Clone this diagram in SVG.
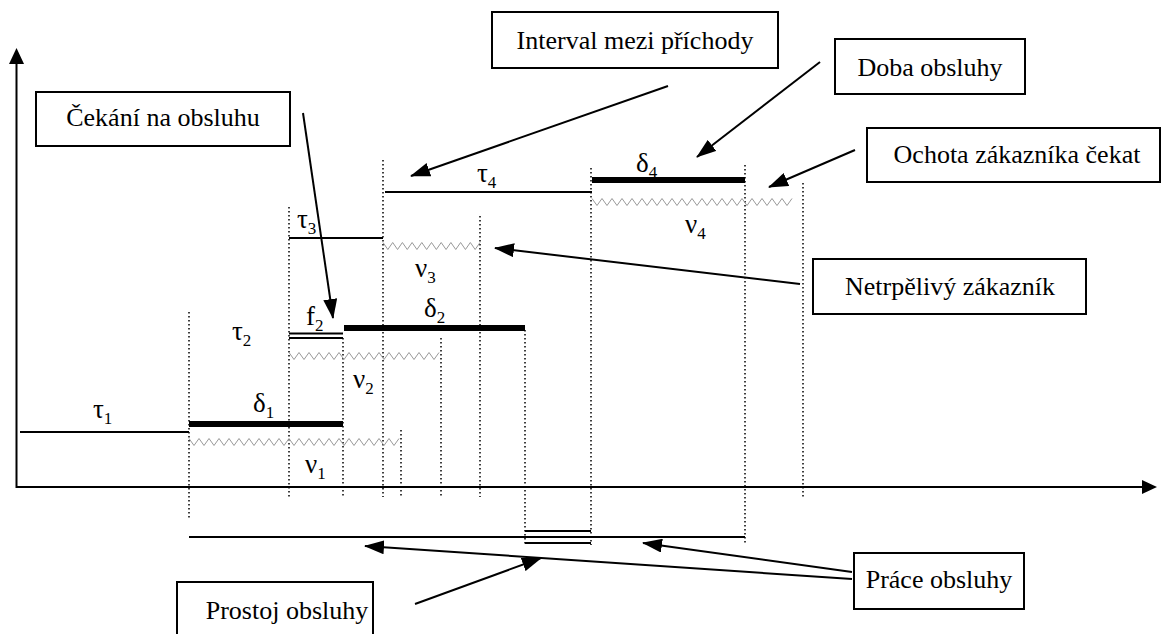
<svg xmlns="http://www.w3.org/2000/svg" width="1162" height="634" viewBox="0 0 1162 634">
<style>
.box{fill:#fff;stroke:#000;stroke-width:2}
.lbl{font-family:"Liberation Serif","Times New Roman",serif;font-size:26px;fill:#000}
.sym{font-family:"Liberation Serif","Times New Roman",serif;font-size:27px;fill:#000}
.sub{font-size:17px}
.dot{stroke:#000;stroke-width:1.5;stroke-dasharray:1.5 2.5;fill:none}
.ln{stroke:#000;stroke-width:2;fill:none}
.bar{stroke:#000;stroke-width:6;fill:none}
.wave{stroke:#999;stroke-width:1;fill:none}
.arr{stroke:#000;stroke-width:2;fill:none;marker-end:url(#ah)}
</style>
<defs>
<marker id="ah" markerUnits="userSpaceOnUse" markerWidth="20" markerHeight="14" refX="19" refY="7" orient="auto">
<path d="M0,0 L20,7 L0,14 z" fill="#000"/>
</marker>
</defs>
<rect width="1162" height="634" fill="#fff"/>
<g id="axes">
<line class="ln" x1="16.5" y1="488" x2="16.5" y2="62"/>
<polygon points="9,64 24,64 16.5,48" fill="#000"/>
<line class="ln" x1="16" y1="487" x2="1143" y2="487"/>
<polygon points="1142,480 1142,494 1157,487" fill="#000"/>
</g>
<g id="dotted">
<line class="dot" x1="189" y1="312" x2="189" y2="520"/>
<line class="dot" x1="289" y1="207" x2="289" y2="497"/>
<line class="dot" x1="343" y1="338" x2="343" y2="497"/>
<line class="dot" x1="383" y1="160" x2="383" y2="497"/>
<line class="dot" x1="401" y1="430" x2="401" y2="497"/>
<line class="dot" x1="441" y1="338" x2="441" y2="497"/>
<line class="dot" x1="480" y1="216" x2="480" y2="497"/>
<line class="dot" x1="525" y1="330" x2="525" y2="545"/>
<line class="dot" x1="591" y1="168" x2="591" y2="545"/>
<line class="dot" x1="745" y1="165" x2="745" y2="545"/>
<line class="dot" x1="803" y1="183" x2="803" y2="497"/>
</g>
<g id="intervals">
<line class="ln" x1="20" y1="432" x2="189" y2="432"/>
<line class="ln" x1="289" y1="238" x2="383" y2="238"/>
<line class="ln" x1="385" y1="192" x2="592" y2="192"/>
<line class="bar" x1="189" y1="424" x2="343" y2="424"/>
<line class="bar" x1="344" y1="328" x2="525" y2="328"/>
<line class="bar" x1="592" y1="180" x2="745" y2="180"/>
<line class="ln" x1="289" y1="333.5" x2="343" y2="333.5"/>
<line class="ln" x1="289" y1="338" x2="343" y2="338"/>
<line class="ln" x1="189" y1="537" x2="745" y2="537"/>
<line class="ln" x1="525" y1="531" x2="591" y2="531" stroke-width="2.5"/>
<line class="ln" x1="525" y1="537" x2="591" y2="537" stroke-width="4"/>
<line class="ln" x1="525" y1="543" x2="591" y2="543" stroke-width="2.5"/>
</g>
<g id="waves">
<path class="wave" d="M189,438.5 l5,7 5,-7 5,7 5,-7 5,7 5,-7 5,7 5,-7 5,7 5,-7 5,7 5,-7 5,7 5,-7 5,7 5,-7 5,7 5,-7 5,7 5,-7 5,7 5,-7 5,7 5,-7 5,7 5,-7 5,7 5,-7 5,7 5,-7 5,7 5,-7 5,7 5,-7 5,7 5,-7 5,7 5,-7 5,7 5,-7 5,7 5,-7"/>
<path class="wave" d="M289,352.5 l5,7 5,-7 5,7 5,-7 5,7 5,-7 5,7 5,-7 5,7 5,-7 5,7 5,-7 5,7 5,-7 5,7 5,-7 5,7 5,-7 5,7 5,-7 5,7 5,-7 5,7 5,-7 5,7 5,-7 5,7 5,-7 5,7 5,-7"/>
<path class="wave" d="M383,242.5 l4.85,7 4.85,-7 4.85,7 4.85,-7 4.85,7 4.85,-7 4.85,7 4.85,-7 4.85,7 4.85,-7 4.85,7 4.85,-7 4.85,7 4.85,-7 4.85,7 4.85,-7 4.85,7 4.85,-7 4.85,7 4.85,-7"/>
<path class="wave" d="M592,198.5 l5,7 5,-7 5,7 5,-7 5,7 5,-7 5,7 5,-7 5,7 5,-7 5,7 5,-7 5,7 5,-7 5,7 5,-7 5,7 5,-7 5,7 5,-7 5,7 5,-7 5,7 5,-7 5,7 5,-7 5,7 5,-7 5,7 5,-7 5,7 5,-7 5,7 5,-7 5,7 5,-7 5,7 5,-7 5,7 5,-7"/>
</g>
<g id="symbols">
<text class="sym" x="93" y="418">τ<tspan class="sub" dy="6">1</tspan></text>
<text class="sym" x="232" y="340">τ<tspan class="sub" dy="6">2</tspan></text>
<text class="sym" x="297" y="228">τ<tspan class="sub" dy="6">3</tspan></text>
<text class="sym" x="477" y="182">τ<tspan class="sub" dy="6">4</tspan></text>
<text class="sym" x="253" y="412">δ<tspan class="sub" dy="6">1</tspan></text>
<text class="sym" x="424" y="317">δ<tspan class="sub" dy="6">2</tspan></text>
<text class="sym" x="636" y="172">δ<tspan class="sub" dy="6">4</tspan></text>
<text class="sym" x="305" y="473">ν<tspan class="sub" dy="6">1</tspan></text>
<text class="sym" x="353" y="388">ν<tspan class="sub" dy="6">2</tspan></text>
<text class="sym" x="415" y="277">ν<tspan class="sub" dy="6">3</tspan></text>
<text class="sym" x="685" y="233">ν<tspan class="sub" dy="6">4</tspan></text>
<text class="sym" x="306" y="325">f<tspan class="sub" dy="6">2</tspan></text>
</g>
<g id="connectors">
<line class="arr" x1="668" y1="86" x2="411" y2="176"/>
<line class="arr" x1="820" y1="62" x2="697" y2="157"/>
<line class="arr" x1="855" y1="150" x2="769" y2="187"/>
<line class="arr" x1="303" y1="113" x2="333" y2="318"/>
<line class="arr" x1="800" y1="284" x2="495" y2="248"/>
<line class="arr" x1="852" y1="579" x2="365" y2="546"/>
<line class="arr" x1="852" y1="572" x2="643" y2="543"/>
<line class="arr" x1="415" y1="604" x2="541" y2="558"/>
</g>
<g id="n-interval"><rect class="box" x="492" y="12" width="286" height="56"/><text class="lbl" x="635" y="49" text-anchor="middle">Interval mezi příchody</text></g>
<g id="n-doba"><rect class="box" x="835" y="39" width="190" height="55"/><text class="lbl" x="930" y="76" text-anchor="middle">Doba obsluhy</text></g>
<g id="n-ochota"><rect class="box" x="867" y="128" width="293" height="54"/><text class="lbl" x="1017" y="163" text-anchor="middle">Ochota zákazníka čekat</text></g>
<g id="n-cekani"><rect class="box" x="36" y="92" width="254" height="54"/><text class="lbl" x="163" y="126" text-anchor="middle">Čekání na obsluhu</text></g>
<g id="n-netrpelivy"><rect class="box" x="813" y="259" width="273" height="55"/><text class="lbl" x="950" y="295" text-anchor="middle">Netrpělivý zákazník</text></g>
<g id="n-prace"><rect class="box" x="854" y="553" width="170" height="56"/><text class="lbl" x="939" y="588" text-anchor="middle">Práce obsluhy</text></g>
<g id="n-prostoj"><rect class="box" x="177" y="582" width="196" height="62"/><text class="lbl" x="287" y="619" text-anchor="middle">Prostoj obsluhy</text></g>
</svg>
